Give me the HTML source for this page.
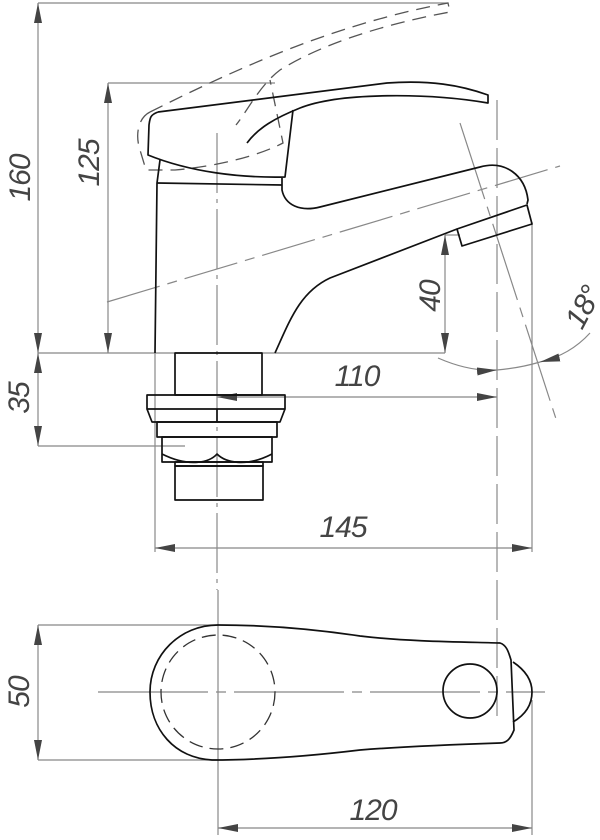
<!DOCTYPE html>
<html><head><meta charset="utf-8"><style>
html,body{margin:0;padding:0;background:#fff;width:600px;height:840px;overflow:hidden}
svg{display:block}
text{font-family:"Liberation Sans",sans-serif;font-style:italic;fill:#444;font-size:30px;letter-spacing:-1px}
</style></head><body>
<svg width="600" height="840" viewBox="0 0 600 840" xmlns="http://www.w3.org/2000/svg">
<defs>
<marker id="a" viewBox="0 0 20 8" refX="20" refY="4" markerWidth="20" markerHeight="8" markerUnits="userSpaceOnUse" orient="auto-start-reverse"><path d="M0,0L20,4L0,8z" fill="#444"/></marker>
</defs>
<g stroke="#888" stroke-width="1.2" fill="none">
<line x1="38" y1="3" x2="448" y2="3"/>
<line x1="108" y1="83" x2="275" y2="83"/>
<line x1="38" y1="353" x2="445" y2="353"/>
<line x1="38" y1="446" x2="185" y2="446"/>
<line x1="155" y1="353" x2="155" y2="552"/>
<line x1="532" y1="222" x2="532" y2="552"/>
<line x1="445" y1="235" x2="460" y2="235"/>
<line x1="38" y1="625" x2="218" y2="625"/>
<line x1="38" y1="760" x2="218" y2="760"/>
<line x1="218" y1="760" x2="218" y2="835"/>
<line x1="532" y1="700" x2="532" y2="835"/>
<line x1="38" y1="3" x2="38" y2="353" marker-start="url(#a)" marker-end="url(#a)"/>
<line x1="108" y1="83" x2="108" y2="353" marker-start="url(#a)" marker-end="url(#a)"/>
<line x1="38" y1="353" x2="38" y2="446" marker-start="url(#a)" marker-end="url(#a)"/>
<line x1="445" y1="235" x2="445" y2="353" marker-start="url(#a)" marker-end="url(#a)"/>
<line x1="217" y1="397" x2="497" y2="397" marker-start="url(#a)" marker-end="url(#a)"/>
<line x1="155" y1="548" x2="532" y2="548" marker-start="url(#a)" marker-end="url(#a)"/>
<line x1="38" y1="625" x2="38" y2="760" marker-start="url(#a)" marker-end="url(#a)"/>
<line x1="218" y1="828" x2="532" y2="828" marker-start="url(#a)" marker-end="url(#a)"/>
<path d="M438,358 Q470,372 497,370" marker-end="url(#a)"/>
<path d="M590,333 Q570,355 540,362" marker-end="url(#a)"/>
<path d="M497,370 Q520,368 540,362"/>
<line x1="217" y1="133" x2="217" y2="590" stroke-dasharray="60,6,4,6"/>
<line x1="218" y1="590" x2="218" y2="760"/>
<line x1="497" y1="100" x2="497" y2="720" stroke-dasharray="40,8"/>
<line x1="107" y1="302" x2="560" y2="166" stroke-dasharray="55,8,10,8"/>
<line x1="460" y1="123" x2="557" y2="422" stroke-dasharray="80,8,10,8"/>
<line x1="98" y1="692" x2="545" y2="692" stroke-dasharray="110,8,10,8"/>
</g>
<g stroke="#555" stroke-width="1.3" fill="none" stroke-dasharray="14,8">
<path d="M150,112 C138,118 135,135 140,150 L146,170 L175,170 C220,166 260,155 283,143 L270,80"/>
<path d="M150,112 C230,72 330,25 448,3 L450,12 C380,25 320,45 280,70 C260,85 248,110 236,125"/>
</g>
<g stroke="#111" stroke-width="1.7" fill="none" stroke-linejoin="round">
<path d="M158,112 L387,83 C430,80 460,85 488,95 L488,103 C430,93 340,92 300,108 C275,118 258,128 247,143"/>
<path d="M158,112 C150,115 150,118 149,125 L148,155 C190,172 240,178 285,177 L293,110"/>
<path d="M160,160 L157,183 L155,353"/>
<line x1="157" y1="183" x2="282" y2="185"/>
<path d="M282,178 L282,190 C285,205 300,212 320,207 L480,167 C505,160 525,175 528,200 L527,204"/>
<path d="M457,229 L527,205 L532,224 L462,246 Z"/>
<path d="M457,229 L330,278 C300,292 290,320 275,353"/>
<rect x="175" y="353" width="87" height="42"/>
<rect x="147" y="395" width="138" height="14"/>
<path d="M147,409 L152,422 L280,422 L285,409"/>
<line x1="217" y1="409" x2="217" y2="422"/>
<rect x="157" y="422" width="120" height="15"/>
<rect x="162" y="437" width="110" height="25"/>
<path d="M162,454 C190,468 210,462 217,454 C225,462 245,468 272,454"/>
<rect x="175" y="462" width="88" height="4"/>
<rect x="175" y="466" width="88" height="34"/>
<path d="M218,625 C270,625 320,630 360,636 C410,642 470,642 500,643 C506,645 508,650 511,660 L514,730 C510,740 506,743 500,743 C470,744 410,746 360,750 C310,756 260,760 212,760 C175,758 150,730 150,692 C150,655 180,625 218,625 Z"/>
<path d="M513,662 C525,670 532,680 532,692 C532,705 525,715 513,722"/>
<ellipse cx="470" cy="691" rx="27" ry="27"/>
</g>
<circle cx="218" cy="692" r="57" fill="none" stroke="#333" stroke-width="1.3" stroke-dasharray="14,7"/>
<text transform="translate(30,178) rotate(-90)" text-anchor="middle">160</text>
<text transform="translate(99,163) rotate(-90)" text-anchor="middle">125</text>
<text transform="translate(29,398) rotate(-90)" text-anchor="middle">35</text>
<text transform="translate(440,296) rotate(-90)" text-anchor="middle">40</text>
<text transform="translate(29,692) rotate(-90)" text-anchor="middle">50</text>
<text x="357" y="386" text-anchor="middle">110</text>
<text x="343" y="537" text-anchor="middle">145</text>
<text x="373" y="820" text-anchor="middle">120</text>
<text transform="translate(592,312) rotate(-62)" text-anchor="middle">18°</text>
</svg>
</body></html>
